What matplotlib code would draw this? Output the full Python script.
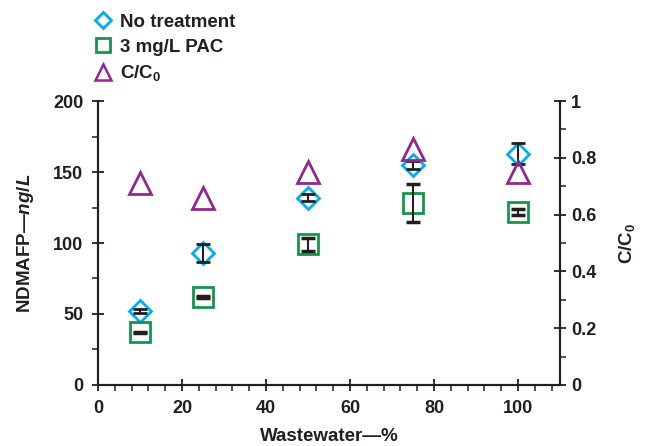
import numpy as np
import matplotlib.pyplot as plt
from matplotlib.ticker import MultipleLocator, FuncFormatter
from matplotlib.lines import Line2D

plt.rcParams['font.family'] = ['Liberation Sans', 'DejaVu Sans']
plt.rcParams['font.weight'] = 'bold'
plt.rcParams['mathtext.fontset'] = 'custom'
plt.rcParams['mathtext.rm'] = 'Liberation Sans:bold'
plt.rcParams['mathtext.it'] = 'Liberation Sans:italic:bold'
plt.rcParams['mathtext.bf'] = 'Liberation Sans:bold'

# data
wastewater = [10, 25, 50, 75, 100]
no_treatment = [52, 93, 132, 155, 163]
no_treatment_err = [1.5, 6.5, 2.5, 2.7, 7.5]
pac = [37, 62, 99, 128, 122]
pac_err = [0.4, 0.4, 4.5, 13.5, 2.0]
c_c0 = [0.71, 0.66, 0.75, 0.83, 0.75]

cyan = '#00AEEF'
green = '#14964A'
purple = '#93278F'
ink = '#231F20'

fig = plt.figure(figsize=(6.46, 4.46), dpi=100)
ax = fig.add_axes([0.1517, 0.1368, 0.7152, 0.6367])
ax2 = ax.twinx()

ax.plot(wastewater, no_treatment, linestyle='none', marker='D', ms=11.5,
        mfc='none', mec=cyan, mew=2, zorder=3)
ax.plot(wastewater, pac, linestyle='none', marker='s', ms=15,
        mfc='none', mec=green, mew=2, zorder=3)
ax.errorbar(wastewater, no_treatment, yerr=no_treatment_err, fmt='none',
            ecolor=ink, elinewidth=1.5, capsize=5, capthick=2, zorder=4)
ax.errorbar(wastewater, pac, yerr=pac_err, fmt='none',
            ecolor=ink, elinewidth=1.5, capsize=5, capthick=2.5, zorder=4)
ax2.plot(wastewater, c_c0, linestyle='none', marker='^', ms=16,
         mfc='none', mec=purple, mew=2, zorder=3)

ax.set_xlim(0, 110)
ax.set_ylim(0, 200)
ax2.set_ylim(0, 1)
ax.xaxis.set_major_locator(MultipleLocator(20))
ax.xaxis.set_minor_locator(MultipleLocator(4))
ax.yaxis.set_major_locator(MultipleLocator(50))
ax.yaxis.set_minor_locator(MultipleLocator(25))
ax2.yaxis.set_major_locator(MultipleLocator(0.2))
ax2.yaxis.set_minor_locator(MultipleLocator(0.1))
ax2.yaxis.set_major_formatter(FuncFormatter(lambda v, p: '%g' % round(v, 2)))

for a in (ax, ax2):
    a.spines['top'].set_visible(False)
    for s in a.spines.values():
        s.set_linewidth(1.5)
        s.set_color(ink)
    a.tick_params(which='major', direction='inout', length=9, width=1.3,
                  labelsize=13, color=ink, labelcolor=ink)
    a.tick_params(which='minor', direction='out', length=4.5, width=1.1,
                  color=ink)
ax.tick_params(axis='x', pad=6)
ax.tick_params(axis='y', pad=6)

ax.set_xlabel('Wastewater\u2014%', fontsize=13.5, fontweight='bold', labelpad=8, color=ink)
ax.set_ylabel('NDMAFP\u2014$\\mathit{ng/L}$', fontsize=13.5, fontweight='bold',
              labelpad=12, color=ink)
ax2.set_ylabel('C/C$_0$', fontsize=13.5, fontweight='bold', labelpad=15, color=ink)

handles = [
    Line2D([], [], linestyle='none', marker='D', ms=8, mfc='none', mec=cyan, mew=2),
    Line2D([], [], linestyle='none', marker='s', ms=10, mfc='none', mec=green, mew=2),
    Line2D([], [], linestyle='none', marker='^', ms=11, mfc='none', mec=purple, mew=1.8),
]
labels = ['No treatment', '3 mg/L PAC', 'C/C$_0$']
leg = fig.legend(handles, labels, loc='upper left', bbox_to_anchor=(0.127, 0.995),
                 frameon=False, fontsize=13.5, handlelength=1.0, handletextpad=0.4,
                 labelspacing=0.42, borderaxespad=0.2)
for t in leg.get_texts():
    t.set_color(ink)

fig.savefig('out.png', dpi=100)
